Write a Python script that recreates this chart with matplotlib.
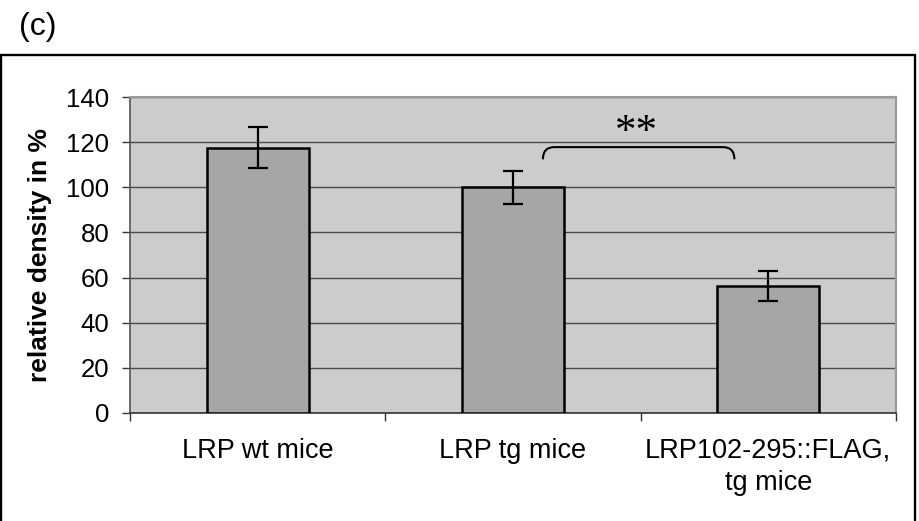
import numpy as np
import matplotlib
matplotlib.use("Agg")
import matplotlib.pyplot as plt
from matplotlib.path import Path
from matplotlib.patches import PathPatch, Rectangle

categories = ["LRP wt mice", "LRP tg mice", "LRP102-295::FLAG,\ntg mice"]
density = [117.5, 100.0, 56.2]
err = [9.0, 7.2, 6.8]
yticks = [0, 20, 40, 60, 80, 100, 120, 140]

plt.rcParams['font.family'] = ['Liberation Sans', 'DejaVu Sans']

fig = plt.figure(figsize=(9.19, 5.21), dpi=100)
ax = fig.add_axes([0.1415, 0.2073, 0.8335, 0.6065])

# outer frame
fig.patches.append(Rectangle((0.0015, -0.01), 0.9945, 0.904, transform=fig.transFigure,
                             fill=False, edgecolor='black', linewidth=1.7, zorder=0))

x = np.arange(len(categories))
ax.set_facecolor('#cccccc')
ax.set_axisbelow(True)
ax.yaxis.grid(True, color='#4a4a4a', linewidth=1.0)
ax.bar(x, density, width=0.4, color='#a6a6a6', edgecolor='black', linewidth=1.8, zorder=3)
ax.errorbar(x, density, yerr=err, fmt='none', ecolor='black', elinewidth=1.6,
            capsize=7.2, capthick=1.6, zorder=4)

ax.set_xlim(-0.5, 2.5)
ax.set_ylim(0, 140)
ax.set_yticks(yticks)
ax.set_xticks([-0.5, 0.5, 1.5, 2.5])
ax.set_xticklabels([])
ax.set_xticks(x, minor=True)
ax.set_xticklabels(categories, minor=True, fontsize=19.5)
ax.tick_params(axis='x', which='minor', length=0, pad=18)
ax.tick_params(axis='x', which='major', length=6, width=1, color='#333333', direction='out')
ax.tick_params(axis='y', length=6, width=1, color='#333333', labelsize=18.5, pad=9)
for t in ax.get_xticklabels(minor=True):
    t.set_linespacing(1.3)

for s in ['top', 'right']:
    ax.spines[s].set_color('#999999')
    ax.spines[s].set_linewidth(1.5)
ax.spines['left'].set_color('#555555')
ax.spines['left'].set_linewidth(1.2)
ax.spines['bottom'].set_color('#333333')
ax.spines['bottom'].set_linewidth(1.2)

fig.text(0.044, 0.51, "relative density in %", rotation=90, fontsize=19,
         fontweight='bold', ha='center', va='center')
fig.text(0.021, 0.948, "(c)", fontsize=23, ha='left', va='center')

# significance bracket
x1, x2, yt, yb = 1.117, 1.867, 117.8, 112.4
rx = 0.045
verts = [(x1, yb), (x1, yt), (x1 + rx, yt), (x2 - rx, yt), (x2, yt), (x2, yb)]
codes = [Path.MOVETO, Path.CURVE3, Path.CURVE3, Path.LINETO, Path.CURVE3, Path.CURVE3]
ax.add_patch(PathPatch(Path(verts, codes), fill=False, edgecolor='black', linewidth=1.5, zorder=5))
ax.text(1.484, 124.0, "**", fontsize=31, family=['Liberation Serif', 'DejaVu Serif'],
        ha='center', va='center', zorder=5)

fig.savefig("out.png", dpi=100)
